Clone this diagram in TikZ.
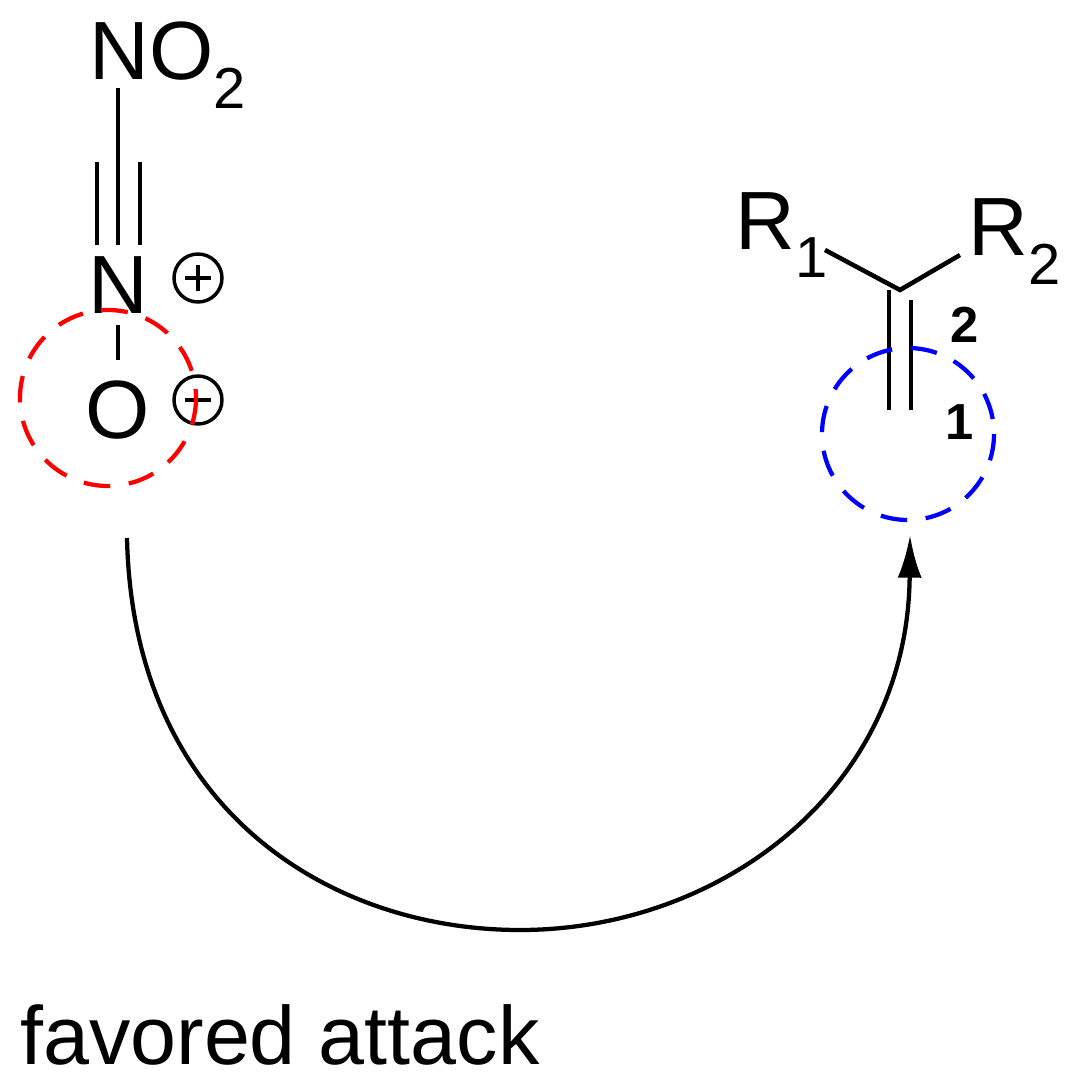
\documentclass[tikz,border=0pt]{standalone}
\usepackage{fontspec}
\usetikzlibrary{arrows.meta}
\setmainfont{Liberation Sans}
\begin{document}
\begin{tikzpicture}[x=0.75pt,y=-0.75pt,
  bond/.style={line width=3.4pt},
  lab/.style={font=\fontsize{62}{66}\selectfont,inner sep=0pt},
  chg/.style={circle,draw,line width=2.6pt,minimum size=36pt,inner sep=0pt},
  num/.style={font=\bfseries\fontsize{38}{40}\selectfont,inner sep=0pt}]
\useasboundingbox (0,0) rectangle (1081,1081);
\node[lab] (no2) at (168,65) {NO$_{\mathrm{2}}$};
\node[lab] (n) at (118,285) {N};
\node[lab] (o) at (118,410) {O};
\node[chg] (cp) at (198,278) {};
\draw[line width=2.6pt] ([xshift=-10pt]cp.center) -- ([xshift=10pt]cp.center) ([yshift=-10pt]cp.center) -- ([yshift=10pt]cp.center);
\node[chg] (cm) at (198,400) {};
\draw[line width=2.6pt] ([xshift=-10pt]cm.center) -- ([xshift=10pt]cm.center);
\draw[bond] (118,88) -- (118,165);
\foreach \x in {97,118,140} \draw[bond] (\x,162) -- (\x,245);
\draw[bond] (118,325) -- (118,360);
\draw[red,line width=3.2pt,dash pattern=on 20pt off 14pt] (108,398) circle (88);
\node[lab] (r1) at (782,235) {R$_{\mathrm{1}}$};
\node[lab] (r2) at (1015,242) {R$_{\mathrm{2}}$};
\coordinate (c2) at (900,290);
\draw[bond] (825,250) -- (c2) -- (960,255);
\draw[bond] (889,290) -- (889,410);
\draw[bond] (911,300) -- (911,410);
\node[num] (l2) at (965,325) {2};
\node[num] (l1) at (960,422) {1};
\draw[blue,line width=3.2pt,dash pattern=on 20pt off 14pt] (908,434) circle (86);
\coordinate (s) at (127,538);
\coordinate (m) at (520,930);
\coordinate (e) at (910,535);
\draw[line width=3.2pt,-{Latex[length=32pt,width=18pt]}] (s) .. controls (133,810) and (330,930) .. (m) .. controls (720,930) and (908,790) .. (e);
\node[lab,anchor=west] (fa) at (20,1035) {favored attack};
\end{tikzpicture}
\end{document}
